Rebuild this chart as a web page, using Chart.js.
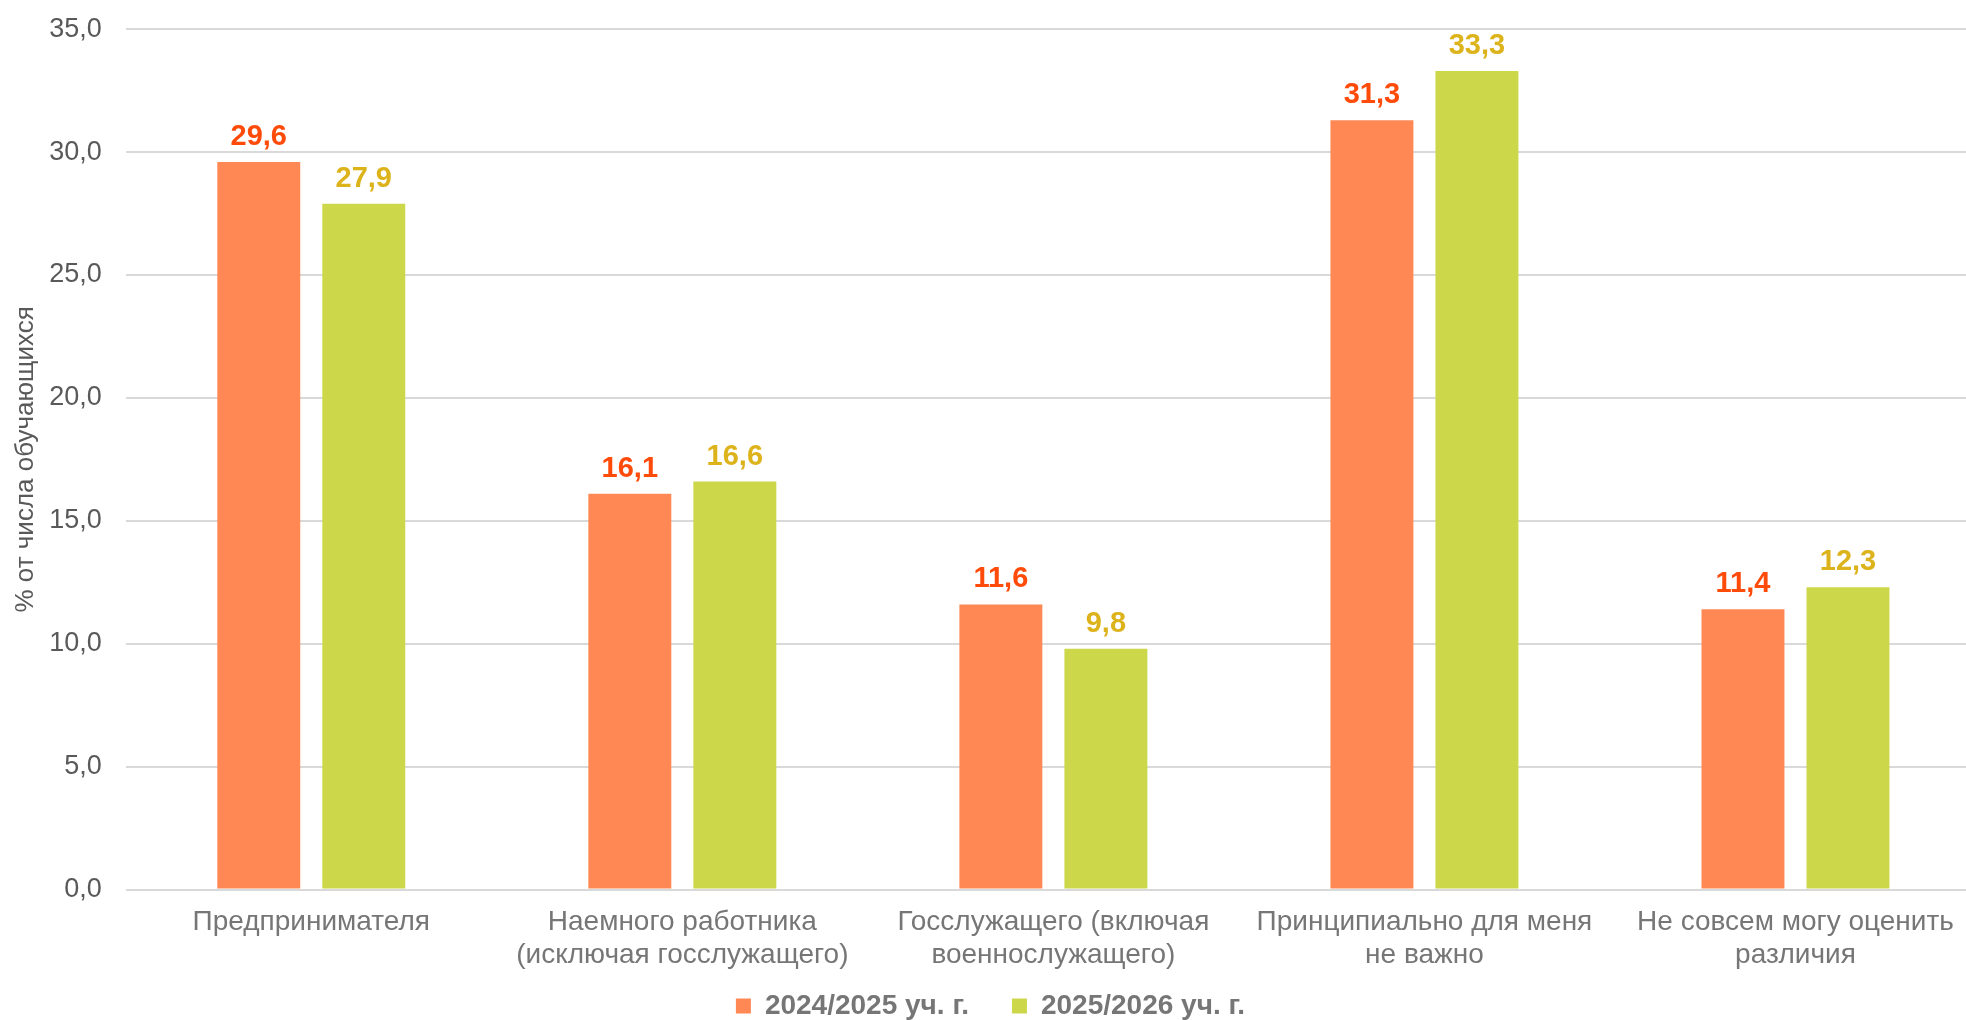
<!DOCTYPE html>
<html lang="ru">
<head>
  <meta charset="UTF-8" />
  <title>Предпочтительный статус занятости</title>
  <script src="https://cdn.jsdelivr.net/npm/chart.js"></script>
  <style>
    html, body {
      margin: 0;
      padding: 0;
      background: #ffffff;
      overflow: hidden;
    }
    .chart-box {
      width: 1985px;
      height: 1041px;
      margin-top: -11px;
    }
  </style>
</head>
<body>
  <div class="chart-box">
    <canvas id="chart"></canvas>
  </div>

  <script>
    const categories = [
      'Предпринимателя',
      ['Наемного работника', '(исключая госслужащего)'],
      ['Госслужащего (включая', 'военнослужащего)'],
      ['Принципиально для меня', 'не важно'],
      ['Не совсем могу оценить', 'различия']
    ];
    const seriesNames = ['2024/2025 уч. г.', '2025/2026 уч. г.'];
    const values2024 = [29.6, 16.1, 11.6, 31.3, 11.4];
    const values2025 = [27.9, 16.6, 9.8, 33.3, 12.3];
    const yTicks = [0, 5, 10, 15, 20, 25, 30, 35];

    const barColors = ['#FF8855', '#CCD84A'];
    const labelColors = ['#FF4B0A', '#DDB31C'];
    const fontFamily = '"Liberation Sans", Arial, sans-serif';

    const fmt = v => v.toFixed(1).replace('.', ',');

    // подписи значений над столбцами
    const valueLabels = {
      id: 'valueLabels',
      afterDatasetsDraw(chart) {
        const ctx = chart.ctx;
        ctx.save();
        ctx.font = 'bold 29px ' + fontFamily;
        ctx.textAlign = 'center';
        ctx.textBaseline = 'alphabetic';
        chart.data.datasets.forEach((ds, i) => {
          const meta = chart.getDatasetMeta(i);
          ctx.fillStyle = labelColors[i];
          meta.data.forEach((bar, j) => {
            ctx.fillText(fmt(ds.data[j]), bar.x, bar.y - 17);
          });
        });
        ctx.restore();
      }
    };

    new Chart(document.getElementById('chart'), {
      type: 'bar',
      data: {
        labels: categories,
        datasets: [
          {
            label: seriesNames[0],
            data: values2024,
            backgroundColor: barColors[0],
            barPercentage: 0.79,
            categoryPercentage: 0.566
          },
          {
            label: seriesNames[1],
            data: values2025,
            backgroundColor: barColors[1],
            barPercentage: 0.79,
            categoryPercentage: 0.566
          }
        ]
      },
      options: {
        responsive: true,
        maintainAspectRatio: false,
        animation: false,
        layout: {
          padding: { top: 17, left: 0, right: 4, bottom: 0 }
        },
        plugins: {
          legend: {
            position: 'bottom',
            labels: {
              boxWidth: 15,
              boxHeight: 15,
              padding: 4,
              color: '#767676',
              font: { family: fontFamily, size: 28, weight: 'bold' },
              // пробелы после первой подписи дают расстояние между элементами
              generateLabels: chart => {
                const items = Chart.defaults.plugins.legend.labels.generateLabels(chart);
                items[0].text += '     ';
                return items;
              }
            }
          },
          tooltip: { enabled: false }
        },
        scales: {
          x: {
            grid: { display: false },
            border: { display: false },
            afterFit: scale => { scale.height += 8; },
            ticks: {
              color: '#767676',
              padding: 9,
              maxRotation: 0,
              autoSkip: false,
              font: { family: fontFamily, size: 28, lineHeight: 1.15 }
            }
          },
          y: {
            min: 0,
            max: 35,
            afterBuildTicks: scale => {
              scale.ticks = yTicks.map(v => ({ value: v }));
            },
            afterFit: scale => { scale.width -= 24; },
            grid: { color: '#D9D9D9', lineWidth: 2, drawTicks: false },
            border: { display: false },
            ticks: {
              color: '#595959',
              padding: 24,
              callback: v => fmt(v),
              font: { family: fontFamily, size: 27 }
            },
            title: {
              display: true,
              text: '% от числа обучающихся',
              color: '#595959',
              padding: { top: 10, bottom: 8 },
              font: { family: fontFamily, size: 26 }
            }
          }
        }
      },
      plugins: [valueLabels]
    });
  </script>
</body>
</html>
